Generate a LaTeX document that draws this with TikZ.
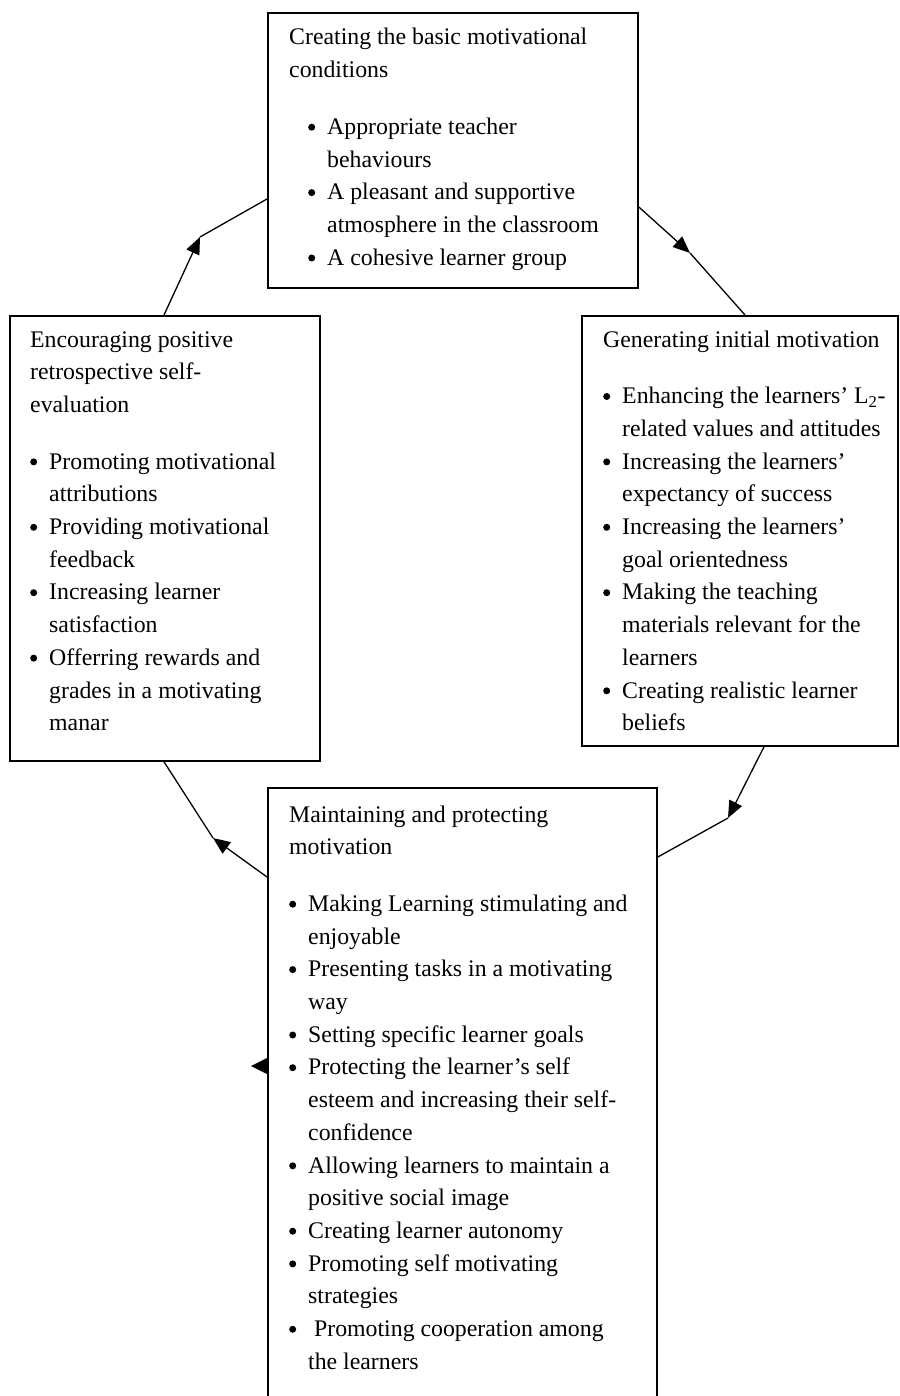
\documentclass[tikz,border=0pt]{standalone}
\usepackage{fontspec}
\setmainfont{Liberation Serif}
\usetikzlibrary{arrows.meta}
\newcommand\bdot{\tikz[baseline=0pt]{\fill[black] (3.7pt,7.2pt) circle (3.5pt);}}
\newcommand\bitem[1]{\makebox[19pt][l]{\bdot}#1}
\newcommand\cont{\hspace*{19pt}}
\newcommand\boxtext[1]{\parbox[t]{520pt}{\raggedright\fontsize{23.8}{32.7}\selectfont #1}}
\tikzset{
  stage/.style={draw=black, line width=1.8pt, fill=white, anchor=north west, inner sep=0pt},
  lbl/.style={anchor=base west, inner sep=0pt, text=black},
  link/.style={draw=black, line width=1.3pt},
  arr/.style={link, -{Triangle[length=17pt,width=14pt]}}
}
\begin{document}
\begin{tikzpicture}[x=1pt,y=-1pt]
\useasboundingbox (0,0) rectangle (899,1396);
\clip (0,0) rectangle (899,1396);
\fill[white] (0,0) rectangle (899,1396);

% boxes
\node[stage, minimum width=370pt, minimum height=275pt] (top) at (267,12) {};
\node[stage, minimum width=310pt, minimum height=445pt] (left) at (9,315) {};
\node[stage, minimum width=316pt, minimum height=430pt] (right) at (581,315) {};
\node[stage, minimum width=389pt, minimum height=700pt] (bottom) at (267,787) {};

% texts
\node[lbl] (toptext) at ([xshift=22pt,yshift=-33pt]top.north west) {\boxtext{%
Creating the basic motivational\\
conditions\\[24pt]
\cont\bitem{Appropriate teacher}\\
\cont\cont behaviours\\
\cont\bitem{A pleasant and supportive}\\
\cont\cont atmosphere in the classroom\\
\cont\bitem{A cohesive learner group}}};

\node[lbl] (lefttext) at ([xshift=21pt,yshift=-32pt]left.north west) {\boxtext{%
Encouraging positive\\
retrospective self-\\
evaluation\\[24pt]
\bitem{Promoting motivational}\\
\cont attributions\\
\bitem{Providing motivational}\\
\cont feedback\\
\bitem{Increasing learner}\\
\cont satisfaction\\
\bitem{Offerring rewards and}\\
\cont grades in a motivating\\
\cont manar}};

\node[lbl] (righttext) at ([xshift=22pt,yshift=-32pt]right.north west) {\boxtext{%
Generating initial motivation\\[24pt]
\bitem{Enhancing the learners’ L\textsubscript{2}-}\\
\cont related values and attitudes\\
\bitem{Increasing the learners’}\\
\cont expectancy of success\\
\bitem{Increasing the learners’}\\
\cont goal orientedness\\
\bitem{Making the teaching}\\
\cont materials relevant for the\\
\cont learners\\
\bitem{Creating realistic learner}\\
\cont beliefs}};

\node[lbl] (bottomtext) at ([xshift=22pt,yshift=-35pt]bottom.north west) {\boxtext{%
Maintaining and protecting\\
motivation\\[24pt]
\bitem{Making Learning stimulating and}\\
\cont enjoyable\\
\bitem{Presenting tasks in a motivating}\\
\cont way\\
\bitem{Setting specific learner goals}\\
\bitem{Protecting the learner’s self}\\
\cont esteem and increasing their self-\\
\cont confidence\\
\bitem{Allowing learners to maintain a}\\
\cont positive social image\\
\bitem{Creating learner autonomy}\\
\bitem{Promoting self motivating}\\
\cont strategies\\
\bitem{\ Promoting cooperation among}\\
\cont the learners}};

% bend points
\coordinate (c1) at (200,237);
\coordinate (c2) at (690,253);
\coordinate (c3) at (728,818);
\coordinate (c4) at (213,838);

% connectors
\draw[arr] ([xshift=155pt]left.north west) -- (c1);
\draw[link] (c1) -- ([yshift=-187pt]top.north west);

\draw[arr] ([yshift=-195pt]top.north east) -- (c2);
\draw[link] (c2) -- ([xshift=164pt]right.north west);

\draw[arr] ([xshift=183pt]right.south west) -- (c3);
\draw[link] (c3) -- ([yshift=-70pt]bottom.north east);

\draw[arr] ([yshift=-90pt]bottom.north west) -- (c4);
\draw[link] (c4) -- ([xshift=155pt]left.south west);

% stray arrowhead beside the bottom box
\fill[black] (251,1066) -- (267,1058) -- (267,1074) -- cycle;
\end{tikzpicture}
\end{document}
